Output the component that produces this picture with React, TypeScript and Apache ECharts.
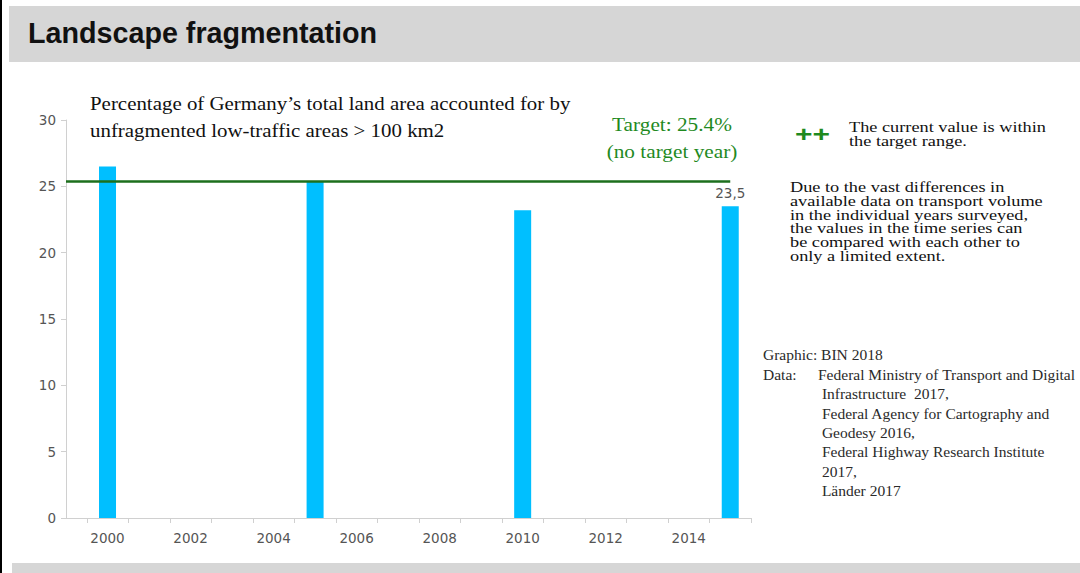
import React, { useEffect, useRef } from "react";
import * as echarts from "echarts";

const years = [2000, 2005, 2010, 2015];
const shares = [26.5, 25.4, 23.2, 23.5];
const targetValue = 25.4;
const xTickValues = [1999.5, 2000.5, 2001.5, 2002.5, 2003.5, 2004.5, 2005.5, 2006.5, 2007.5, 2008.5, 2009.5, 2010.5, 2011.5, 2012.5, 2013.5, 2014.5, 2015.5];
const xLabelValues = [2000, 2002, 2004, 2006, 2008, 2010, 2012, 2014];
const yTicks = [0, 5, 10, 15, 20, 25, 30];

const titleText = "Landscape fragmentation";
const subtitleLines = [
  "Percentage of Germany\u2019s total land area accounted for by",
  "unfragmented low-traffic areas > 100 km2",
];
const targetLines = ["Target: 25.4%", "(no target year)"];
const statusLines = ["The current value is within", "the target range."];
const noteLines = [
  "Due to the vast differences in",
  "available data on transport volume",
  "in the individual years surveyed,",
  "the values in the time series can",
  "be compared with each other to",
  "only a limited extent.",
];
const sourceLines = [
  "Federal Ministry of Transport and Digital",
  " Infrastructure  2017,",
  " Federal Agency for Cartography and",
  " Geodesy 2016,",
  " Federal Highway Research Institute",
  " 2017,",
  " L\u00e4nder 2017",
];

export default function App() {
  const ref = useRef<HTMLDivElement>(null);
  useEffect(() => {
    if (!ref.current) return;
    const chart = echarts.init(ref.current, undefined, { renderer: "svg" });
    const serif = "'Liberation Serif', 'Times New Roman', serif";
    const sans = "'Liberation Sans', Arial, sans-serif";
    const axisFont = "'DejaVu Sans', Verdana, sans-serif";
    const graphics: any[] = [
      { type: "rect", shape: { x: 0, y: 0, width: 2, height: 573 }, style: { fill: "#000" } },
      { type: "rect", shape: { x: 9, y: 6, width: 1071, height: 56 }, style: { fill: "#d6d6d6" } },
      { type: "rect", shape: { x: 12, y: 563, width: 1068, height: 10 }, style: { fill: "#d6d6d6" } },
      {
        type: "text", x: 28, y: 33,
        style: { text: titleText, font: `bold 28.7px ${sans}`, fill: "#111", verticalAlign: "middle" },
      },
      {
        type: "text", x: 90, y: 89.5, scaleX: 1.1,
        style: { text: subtitleLines.join("\n"), font: `19px ${serif}`, lineHeight: 27, fill: "#111", verticalAlign: "top" },
      },
      {
        type: "text", x: 672, y: 110.5, scaleX: 1.12,
        style: { text: targetLines.join("\n"), font: `19px ${serif}`, lineHeight: 27, fill: "#1f8a1f", align: "center", verticalAlign: "top" },
      },
      {
        type: "text", x: 795, y: 134, scaleX: 1.36,
        style: { text: "++", font: `bold 22px ${sans}`, fill: "#1f8a1f", verticalAlign: "middle" },
      },
      {
        type: "text", x: 849, y: 120, scaleX: 1.18,
        style: { text: statusLines.join("\n"), font: `15.5px ${serif}`, lineHeight: 14, fill: "#111", verticalAlign: "top" },
      },
      {
        type: "text", x: 790, y: 180.1, scaleX: 1.18,
        style: { text: noteLines.join("\n"), font: `15.5px ${serif}`, lineHeight: 13.8, fill: "#111", verticalAlign: "top" },
      },
      {
        type: "text", x: 763, y: 345.3,
        style: { text: "Graphic: BIN 2018\nData:", font: `15.5px ${serif}`, lineHeight: 19.4, fill: "#2a2a2a", verticalAlign: "top" },
      },
      {
        type: "text", x: 818, y: 364.7,
        style: { text: sourceLines.join("\n"), font: `15.5px ${serif}`, lineHeight: 19.4, fill: "#2a2a2a", verticalAlign: "top" },
      },
    ];

    const data = years.map((y, i) => {
      const item: any = { value: [y, shares[i]] };
      if (i === years.length - 1) {
        item.label = {
          show: true, position: "top", distance: 6,
          formatter: () => String(shares[i]).replace(".", ","),
          color: "#555", fontSize: 13.5, fontFamily: axisFont,
        };
      }
      return item;
    });

    chart.setOption({
      animation: false,
      grid: { left: 66, right: 329, top: 120, bottom: 55, containLabel: false },
      xAxis: {
        type: "value", min: 1999, max: 2015.5,
        axisLine: { show: true, lineStyle: { color: "#d0d0d0", width: 1 } },
        axisTick: { show: true, customValues: xTickValues, length: 5, lineStyle: { color: "#d0d0d0" } },
        axisLabel: { customValues: xLabelValues, color: "#555", fontSize: 13.5, fontFamily: axisFont, margin: 13, formatter: (v: number) => String(v) },
        splitLine: { show: false },
      },
      yAxis: {
        type: "value", min: 0, max: 30, interval: 5,
        axisLine: { show: true, lineStyle: { color: "#d0d0d0", width: 1 } },
        axisTick: { show: true, length: 5, lineStyle: { color: "#d0d0d0" } },
        axisLabel: { color: "#555", fontSize: 13.5, fontFamily: axisFont, margin: 10, customValues: yTicks },
        splitLine: { show: false },
      },
      series: [
        {
          type: "bar", data, barWidth: 17,
          itemStyle: { color: "#00bfff" },
          markLine: {
            symbol: "none", silent: true,
            label: { show: false },
            lineStyle: { color: "#1d6f1d", width: 2.5, type: "solid" },
            data: [[{ coord: [1999, targetValue] }, { coord: [2015, targetValue] }]],
          },
        },
      ],
      graphic: graphics,
    });
    return () => chart.dispose();
  }, []);
  return <div ref={ref} style={{ position: "absolute", left: 0, top: 0, width: 1080, height: 573, background: "#fff" }} />;
}
